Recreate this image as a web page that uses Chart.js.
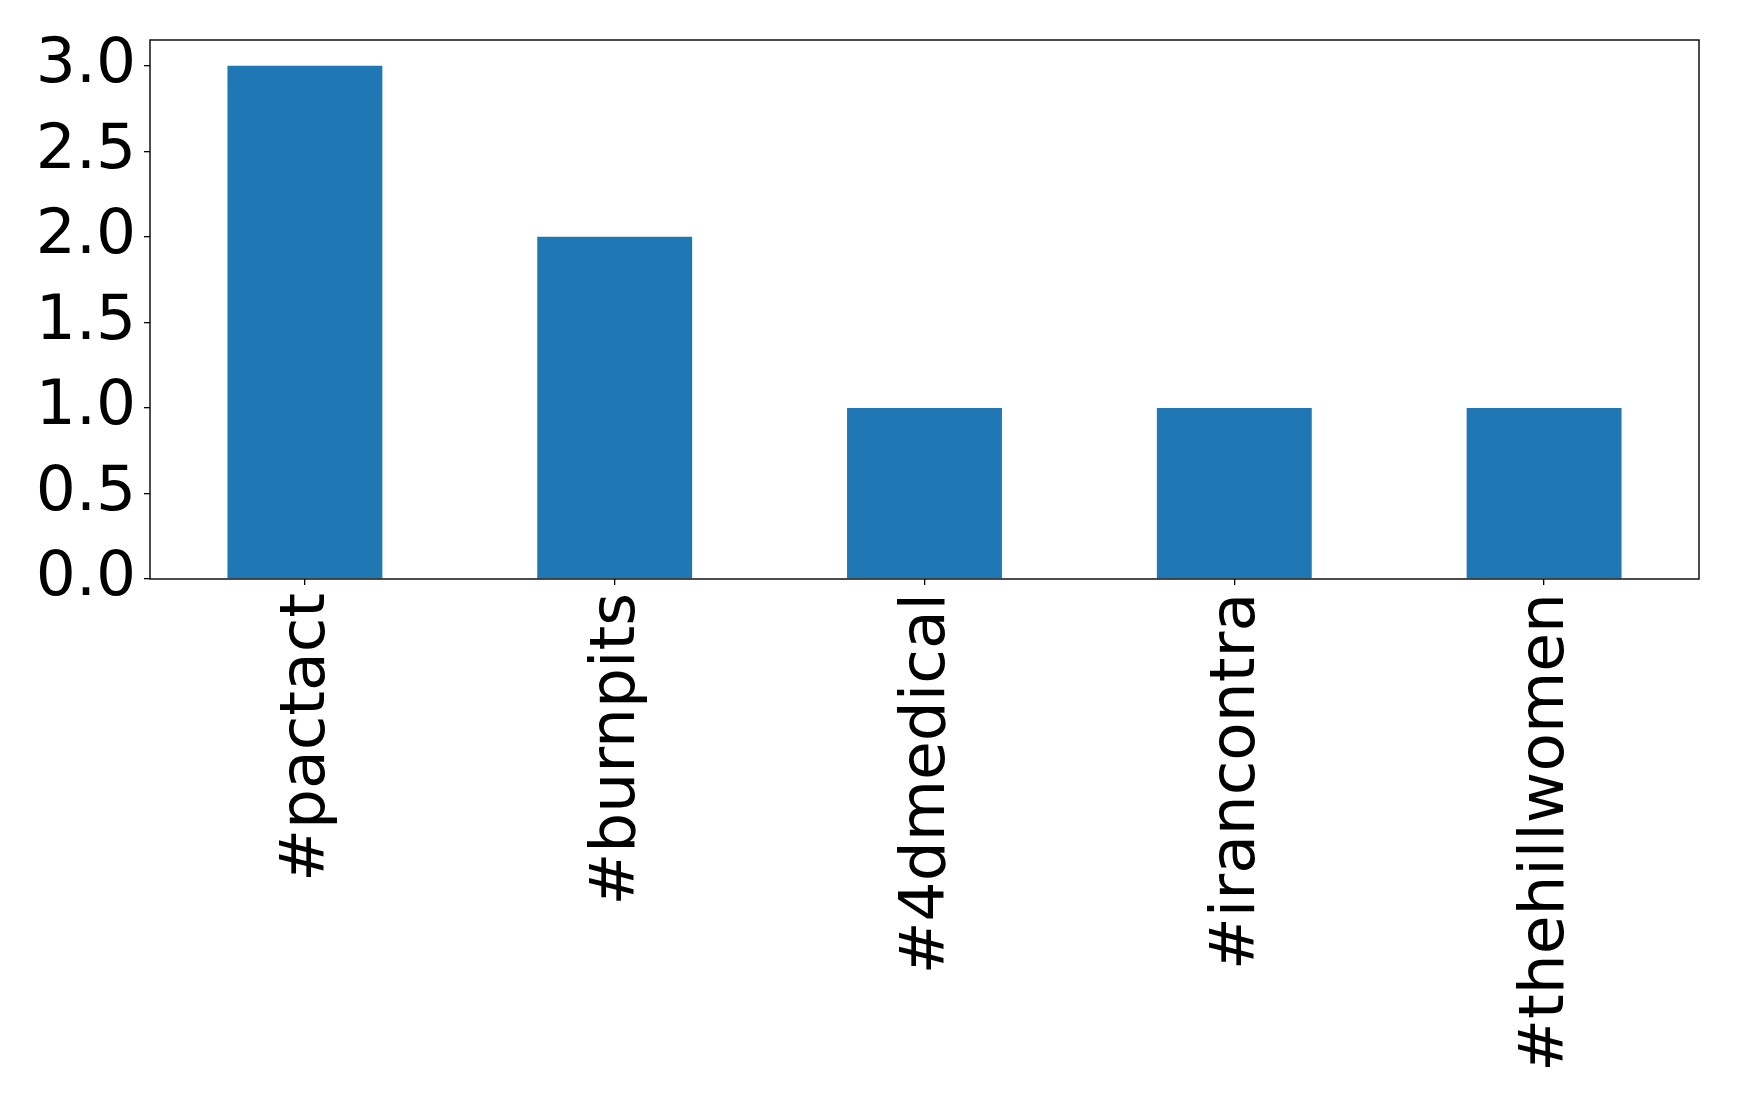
<!DOCTYPE html>
<html>
<head>
<meta charset="utf-8">
<script src="https://cdn.jsdelivr.net/npm/chart.js@4/dist/chart.umd.min.js"></script>
<style>
  html, body { margin: 0; padding: 0; background: #ffffff; }
  #wrap { width: 1739px; height: 1103px; }
</style>
</head>
<body>
<div id="wrap"><canvas id="c" width="1739" height="1103"></canvas></div>
<script>
const categories = ['#pactact', '#burnpits', '#4dmedical', '#irancontra', '#thehillwomen'];
const counts = [3, 2, 1, 1, 1];
const yTickValues = [0, 0.5, 1.0, 1.5, 2.0, 2.5, 3.0];
const yTickLabels = ['0.0', '0.5', '1.0', '1.5', '2.0', '2.5', '3.0'];
const yMax = 3.15;

const FONT = { family: "'DejaVu Sans', sans-serif", size: 63 };

const framePlugin = {
  id: 'frame',
  afterDraw(chart) {
    const a = chart.chartArea;
    const ctx = chart.ctx;
    ctx.save();
    ctx.strokeStyle = '#000000';
    ctx.lineWidth = 1.4;
    ctx.strokeRect(a.left, a.top, a.right - a.left, a.bottom - a.top);
    ctx.restore();
  }
};

new Chart(document.getElementById('c'), {
  type: 'bar',
  data: {
    labels: categories,
    datasets: [{
      data: counts,
      backgroundColor: '#1f77b4',
      borderWidth: 0,
      categoryPercentage: 1.0,
      barPercentage: 0.5
    }]
  },
  options: {
    responsive: false,
    animation: false,
    devicePixelRatio: 1,
    layout: { padding: { top: 40, right: 40, left: 0, bottom: 0 } },
    plugins: { legend: { display: false }, tooltip: { enabled: false } },
    scales: {
      x: {
        offset: true,
        border: { display: false },
        grid: { display: true, offset: false, drawOnChartArea: false, drawTicks: true, tickLength: 6, color: '#000000', lineWidth: 1.3 },
        ticks: { color: '#000000', font: FONT, minRotation: 90, maxRotation: 90, padding: 8, autoSkip: false, labelOffset: 3 },
        afterFit(s) { s.height = 1103 - 579; s.paddingLeft = 0; s.paddingRight = 0; }
      },
      y: {
        min: 0,
        max: yMax,
        border: { display: false },
        grid: { display: true, drawOnChartArea: false, drawTicks: true, tickLength: 6, color: '#000000', lineWidth: 1.3 },
        ticks: {
          color: '#000000', font: FONT, padding: 8, includeBounds: false,
          callback(v) { const i = yTickValues.indexOf(v); return i >= 0 ? yTickLabels[i] : ''; }
        },
        afterBuildTicks(s) { s.ticks = yTickValues.map(v => ({ value: v })); },
        afterFit(s) { s.width = 150; s.paddingTop = 0; s.paddingBottom = 0; }
      }
    }
  },
  plugins: [framePlugin]
});
</script>
</body>
</html>
